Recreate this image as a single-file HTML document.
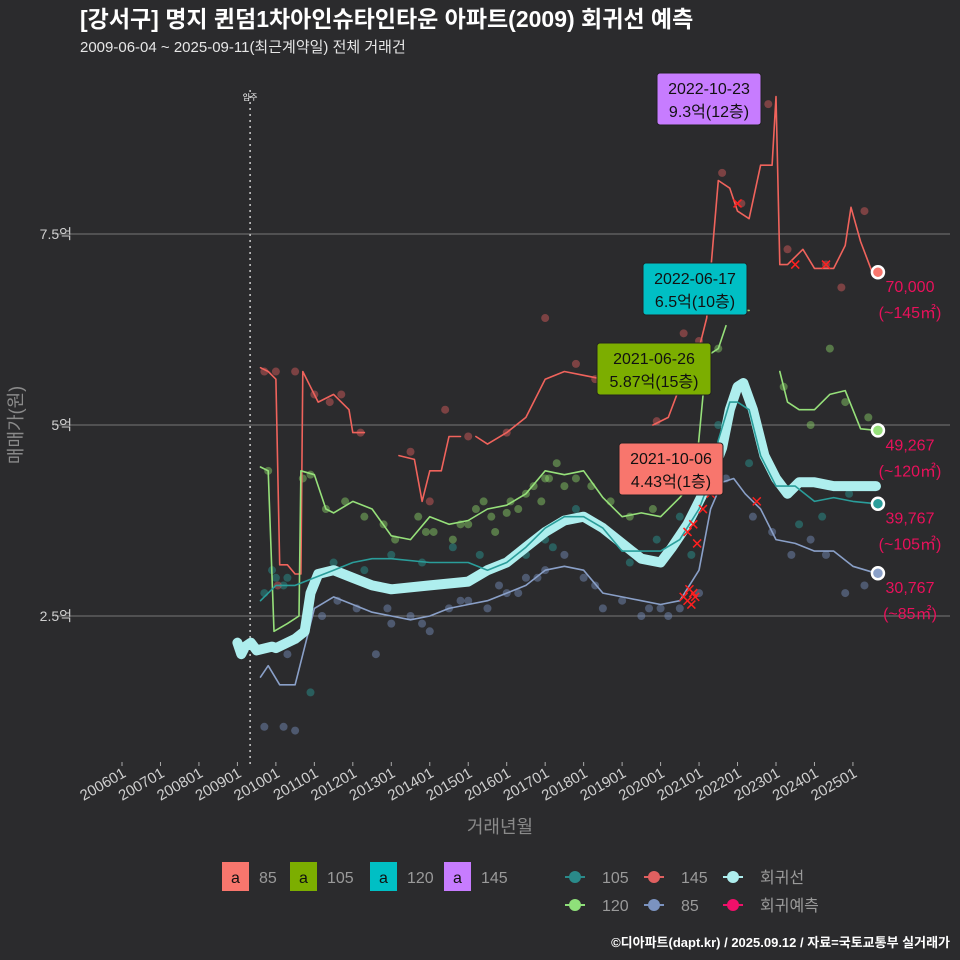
<!DOCTYPE html>
<html><head><meta charset="utf-8">
<style>
body{margin:0;background:#2b2b2d;}
svg{display:block;font-family:"Liberation Sans","Noto Sans CJK KR",sans-serif;}
</style></head>
<body>
<svg id="c" width="960" height="960" viewBox="0 0 960 960">
<rect width="960" height="960" fill="#2b2b2d"/>
<text x="80" y="27" fill="#ffffff" font-size="23" font-weight="bold">[강서구] 명지 퀸덤1차아인슈타인타운 아파트(2009) 회귀선 예측</text>
<text x="80" y="52" fill="#e6e6e6" font-size="15">2009-06-04 ~ 2025-09-11(최근계약일) 전체 거래건</text>
<g id="grid"></g>
<g id="marks"></g>
<g id="ann"></g>
<text x="500" y="833" fill="#8a8a8a" font-size="18" text-anchor="middle">거래년월</text>
<text transform="translate(22,425) rotate(-90)" fill="#8a8a8a" font-size="18" text-anchor="middle">매매가(원)</text>
<g id="legend"></g>
<text x="950" y="947" fill="#ffffff" font-size="13" font-weight="bold" text-anchor="end">©디아파트(dapt.kr) / 2025.09.12 / 자료=국토교통부 실거래가</text>
</svg>
<script>
const xTicks=["200601","200701","200801","200901","201001","201101","201201","201301","201401","201501","201601","201701","201801","201901","202001","202101","202201","202301","202401","202501"];
const yTicks=[2.5,5,7.5];
const yTickLabels=["2.5억","5억","7.5억"];
const regT=[2009.0,2009.1,2009.2,2009.35,2009.5,2009.9,2010,2010.5,2010.75,2010.9,2011.1,2011.5,2012,2012.5,2013,2014,2015,2015.5,2016,2016.5,2017,2017.5,2018,2018.5,2019,2019.5,2020,2020.3,2020.7,2021,2021.3,2021.6,2021.8,2022,2022.15,2022.4,2022.7,2023,2023.3,2023.6,2024,2024.5,2025,2025.6];
const regV=[2.15,2.0,2.1,2.15,2.05,2.1,2.08,2.2,2.3,2.8,3.05,3.1,3.0,2.9,2.85,2.9,2.95,3.1,3.2,3.4,3.6,3.75,3.8,3.65,3.45,3.25,3.2,3.4,3.7,4.0,4.3,4.7,5.2,5.5,5.55,5.2,4.6,4.3,4.1,4.25,4.25,4.2,4.2,4.2];
const s145T=[2009.6,2009.8,2010.0,2010.1,2010.3,2010.5,2010.65,2010.7,2010.9,2011.1,2011.5,2011.9,2012.0,2012.3,2012.31,2013.2,2013.6,2013.8,2014.0,2014.3,2014.5,2014.8,2014.81,2015.2,2015.5,2016,2016.5,2017,2017.5,2018,2018.5,2018.51,2019.8,2020.2,2020.5,2020.8,2021,2021.2,2021.5,2021.8,2022,2022.3,2022.6,2022.9,2023.0,2023.1,2023.3,2023.7,2024,2024.5,2024.8,2024.95,2025.2,2025.5];
const s145V=[5.75,5.7,5.6,3.17,3.17,3.05,3.05,5.7,5.5,5.3,5.4,5.2,4.9,4.9,null,4.6,4.55,4.0,4.4,4.4,4.85,4.85,null,4.85,4.75,4.9,5.1,5.6,5.7,5.65,5.6,null,5.0,5.1,5.5,5.9,6.0,6.4,8.2,8.1,7.8,7.7,8.4,8.4,9.3,7.1,7.1,7.3,7.05,7.05,7.35,7.85,7.4,7.0];
const s120T=[2009.6,2009.8,2009.95,2010.3,2010.6,2010.65,2011.0,2011.3,2011.5,2012,2012.5,2013,2013.5,2014,2014.5,2015,2015.5,2016,2016.5,2017,2017.5,2018,2018.5,2019,2019.5,2020,2020.5,2020.9,2021.2,2021.5,2021.7,2021.71,2021.9,2022.3,2022.31,2023.1,2023.3,2023.6,2024,2024.4,2024.8,2025.2,2025.6];
const s120V=[4.45,4.4,2.3,2.4,2.5,4.4,4.35,3.9,3.85,4.0,3.9,3.55,3.5,3.8,3.7,3.75,3.9,3.95,4.1,4.4,4.35,4.4,4.05,3.8,3.85,3.8,4.05,4.3,5.9,6.0,6.3,null,6.5,6.5,null,5.7,5.3,5.2,5.2,5.4,5.45,4.95,4.93];
const s105T=[2009.6,2010,2010.5,2011,2011.5,2012,2012.5,2013,2014,2015,2015.5,2016,2016.5,2017,2017.5,2018,2018.5,2019,2019.5,2020,2020.5,2021,2021.3,2021.5,2021.8,2022,2022.3,2022.6,2023,2023.5,2024,2024.5,2025,2025.6];
const s105V=[2.7,2.9,2.9,3.0,3.1,3.2,3.25,3.25,3.2,3.2,3.1,3.2,3.4,3.65,3.8,3.8,3.65,3.35,3.35,3.35,3.5,3.9,4.3,4.8,5.3,5.3,5.2,4.6,4.2,4.2,4.0,4.05,4.0,3.97];
const s85T=[2009.6,2009.8,2010.1,2010.5,2010.8,2011.0,2011.5,2012,2012.5,2013,2013.5,2014,2014.5,2015,2015.5,2016,2016.5,2017,2017.5,2018,2018.5,2019,2019.5,2020,2020.5,2021,2021.3,2021.6,2021.9,2022.2,2022.6,2023,2023.5,2024,2024.5,2025,2025.6];
const s85V=[1.7,1.85,1.6,1.6,2.2,2.6,2.75,2.65,2.55,2.5,2.45,2.5,2.6,2.65,2.7,2.8,2.9,3.1,3.15,3.1,2.8,2.75,2.7,2.65,2.7,3.1,3.9,4.25,4.3,4.1,3.9,3.5,3.45,3.35,3.35,3.15,3.06];
const p145T=[2009.7,2010.0,2010.05,2010.5,2011.0,2011.4,2011.7,2012.2,2013.5,2014.0,2014.4,2015.0,2016.0,2017.0,2017.8,2018.3,2019.9,2020.6,2021.0,2021.6,2022.1,2022.8,2023.3,2024.3,2024.7,2025.3];
const p145V=[5.7,5.7,2.9,5.7,5.4,5.3,5.4,4.9,4.65,4.0,5.2,4.85,4.9,6.4,5.8,5.6,5.05,6.2,6.1,8.3,7.9,9.2,7.3,7.1,6.8,7.8];
const p120T=[2009.8,2010.7,2010.9,2011.3,2011.8,2012.3,2013.1,2013.7,2014.1,2014.6,2015.0,2015.4,2015.7,2016.0,2016.3,2016.7,2017.0,2017.3,2017.8,2018.2,2018.7,2019.2,2019.8,2020.4,2021.0,2021.5,2023.2,2023.9,2024.4,2024.8,2025.4,2015.2,2015.6,2016.1,2016.5,2016.9,2017.1,2017.5,2014.8,2013.9,2012.8];
const p120V=[4.4,4.3,4.35,3.9,4.0,3.8,3.5,3.8,3.6,3.5,3.7,4.0,3.6,3.85,3.9,4.2,4.3,4.5,4.3,4.2,4.0,3.8,3.9,4.2,4.4,6.0,5.5,5.0,6.0,5.3,5.1,3.9,3.8,4.0,4.1,4.0,4.3,4.2,3.7,3.6,3.7];
const p105T=[2009.7,2010.0,2010.3,2010.9,2011.5,2012.3,2013.0,2013.8,2014.6,2015.3,2015.9,2016.5,2017.0,2017.8,2018.4,2019.2,2019.9,2020.5,2021.1,2021.5,2022.3,2023.0,2023.6,2024.2,2024.9,2009.9,2010.2,2016.2,2017.2,2020.8];
const p105V=[2.8,3.0,3.0,1.5,3.2,3.1,3.3,3.2,3.4,3.3,3.2,3.3,3.5,3.9,3.7,3.2,3.5,3.8,4.1,5.0,4.5,4.3,3.7,3.8,4.1,3.1,2.9,3.3,3.4,3.3];
const p85T=[2009.7,2010.2,2010.5,2011.2,2011.6,2012.1,2012.6,2013.0,2013.5,2014.0,2014.5,2015.0,2015.5,2016.0,2016.5,2017.0,2017.5,2018.0,2018.5,2019.0,2019.5,2020.0,2020.5,2021.0,2021.7,2022.4,2022.9,2023.4,2023.9,2024.3,2024.8,2025.3,2010.0,2010.3,2012.9,2013.8,2014.8,2015.8,2016.3,2016.8,2018.3,2019.7,2020.2];
const p85V=[1.05,1.05,1.0,2.5,2.7,2.6,2.0,2.4,2.5,2.3,2.6,2.7,2.6,2.8,3.0,3.1,3.3,3.0,2.6,2.7,2.5,2.6,2.6,2.8,4.3,3.8,3.6,3.3,3.5,3.3,2.8,2.9,2.1,2.0,2.6,2.4,2.7,2.9,2.8,3.0,2.9,2.6,2.5];
const predT=[2020.6,2020.7,2020.75,2020.8,2020.85,2020.9,2020.7,2020.85,2020.95,2021.1,2021.3,2022.0,2022.5,2023.5,2024.3];
const predV=[2.75,2.7,2.85,2.65,2.8,2.75,3.6,3.7,3.45,3.9,4.1,7.9,4.0,7.1,7.1];
const endVals=["70,000","49,267","39,767","30,767"];
const endArea=["(~145㎡)","(~120㎡)","(~105㎡)","(~85㎡)"];
const endV=[7.0,4.93,3.97,3.06];

const NS="http://www.w3.org/2000/svg";
const X=t=>122+(t-2006)*38.47;
const Y=v=>616-(v-2.5)*76.4;
function el(tag,attrs,parent){const e=document.createElementNS(NS,tag);for(const k in attrs)e.setAttribute(k,attrs[k]);parent.appendChild(e);return e;}
const grid=document.getElementById('grid'),marks=document.getElementById('marks'),ann=document.getElementById('ann'),leg=document.getElementById('legend');

yTicks.forEach((v,i)=>{
  const l=el('line',{x1:55,x2:950,y1:Y(v),y2:Y(v),stroke:'#777','stroke-width':1},grid);
  
  
  const t=el('text',{x:72,y:Y(v)+5,fill:'#cfcfcf','font-size':14,'text-anchor':'end'},grid);
  t.textContent=yTickLabels[i];
  
  
});
xTicks.forEach((s,i)=>{
  const x=X(2006+i);
  const tk=el('line',{x1:x,x2:x,y1:762,y2:766,stroke:'#aaa'},grid);
  
  
  const t=el('text',{transform:`translate(${x+5},776) rotate(-30)`,fill:'#cfcfcf','font-size':15,'text-anchor':'end'},grid);
  t.textContent=s;
  
  
});
const vl=el('line',{x1:X(2009.33),x2:X(2009.33),y1:90,y2:765,stroke:'#ccc','stroke-dasharray':'2,4','stroke-width':1.5},grid);


const mi=el('text',{x:X(2009.33),y:100,fill:'#fff','font-size':8,'text-anchor':'middle'},grid);
mi.textContent='입주';



function pts(T,V,name,color){
  T.forEach((t,i)=>{const c=el('circle',{cx:X(t),cy:Y(V[i]),r:4,fill:color,opacity:0.45},marks);
  
  });
}
pts(p105T,p105V,'point-105','#2a9d9a');
pts(p120T,p120V,'point-120','#8fd86a');
pts(p85T,p85V,'point-85','#7b93c0');
pts(p145T,p145V,'point-145','#e06060');

function path(T,V){let d='',pen=false;T.forEach((t,i)=>{if(V[i]==null){pen=false;return;}d+=(pen?'L':'M')+X(t).toFixed(1)+','+Y(V[i]).toFixed(1);pen=true;});return d;}
function line(T,V,name,color,w){const p=el('path',{d:path(T,V),fill:'none',stroke:color,'stroke-width':w,'stroke-linejoin':'round','stroke-linecap':'round'},marks);

}
line(s145T,s145V,'line-145','#f0635c',1.6);
line(s120T,s120V,'line-120','#96e07a',1.6);
line(s85T,s85V,'line-85','#8aa0c8',1.6);
line(regT,regV,'regression-line','#aeeeee',10);
line(s105T,s105V,'line-105','#2a9d9a',1.6);

predT.forEach((t,i)=>{const x=X(t),y=Y(predV[i]);
  const g=el('path',{d:`M${x-4},${y-4}L${x+4},${y+4}M${x+4},${y-4}L${x-4},${y+4}`,stroke:'#ff2020','stroke-width':1.5},marks);
  
  });

const endCol=['#f8766d','#96e07a','#2a9d9a','#8aa0c8'];
endV.forEach((v,i)=>{
  const c=el('circle',{cx:X(2025.65),cy:Y(v),r:6,fill:endCol[i],stroke:'#fff','stroke-width':2.5},ann);
  
  
  const t1=el('text',{x:910,y:Y(v)+20,fill:'#e8115b','font-size':16,'text-anchor':'middle'},ann);
  t1.textContent=endVals[i];
  
  
  const t2=el('text',{x:910,y:Y(v)+46,fill:'#e8115b','font-size':16,'text-anchor':'middle'},ann);
  t2.textContent=endArea[i];
  
  
});

const boxes=[[657,73,104,52,'#c77cff','2022-10-23','9.3억(12층)'],[643,263,104,52,'#00bfc4','2022-06-17','6.5억(10층)'],[597,343,114,52,'#7cae00','2021-06-26','5.87억(15층)'],[619,443,104,52,'#f8766d','2021-10-06','4.43억(1층)']];
boxes.forEach(b=>{
  const r=el('rect',{x:b[0],y:b[1],width:b[2],height:b[3],rx:3,fill:b[4],stroke:'#222'},ann);
  
  
  const t1=el('text',{x:b[0]+b[2]/2,y:b[1]+21,fill:'#111','font-size':16,'text-anchor':'middle'},ann);t1.textContent=b[5];
  
  
  const t2=el('text',{x:b[0]+b[2]/2,y:b[1]+44,fill:'#111','font-size':16,'text-anchor':'middle'},ann);t2.textContent=b[6];
  
  
});

const lk=[[222,'#f8766d','85'],[290,'#7cae00','105'],[370,'#00bfc4','120'],[444,'#c77cff','145']];
lk.forEach(k=>{
  const r=el('rect',{x:k[0],y:862,width:27,height:29,fill:k[1]},leg);
  
  
  const a=el('text',{x:k[0]+13.5,y:883,fill:'#111','font-size':16,'text-anchor':'middle'},leg);a.textContent='a';
  const t=el('text',{x:k[0]+37,y:883,fill:'#9a9a9a','font-size':16},leg);t.textContent=k[2];
  
  
});
const lp=[[575,877,'#2a8a8a','105'],[654,877,'#e06060','145'],[733,877,'#aeeeee','회귀선'],[575,905,'#8fe07a','120'],[654,905,'#7b93c0','85'],[733,905,'#f0106a','회귀예측']];
lp.forEach(k=>{
  const x=k[0];
  el('line',{x1:x-10,x2:x+10,y1:k[1],y2:k[1],stroke:k[2],'stroke-width':2},leg);
  const c=el('circle',{cx:x,cy:k[1],r:6,fill:k[2]},leg);
  
  
  const t=el('text',{x:x+27,y:k[1]+6,fill:'#9a9a9a','font-size':16},leg);t.textContent=k[3];
  
  
});
</script>
</body></html>
